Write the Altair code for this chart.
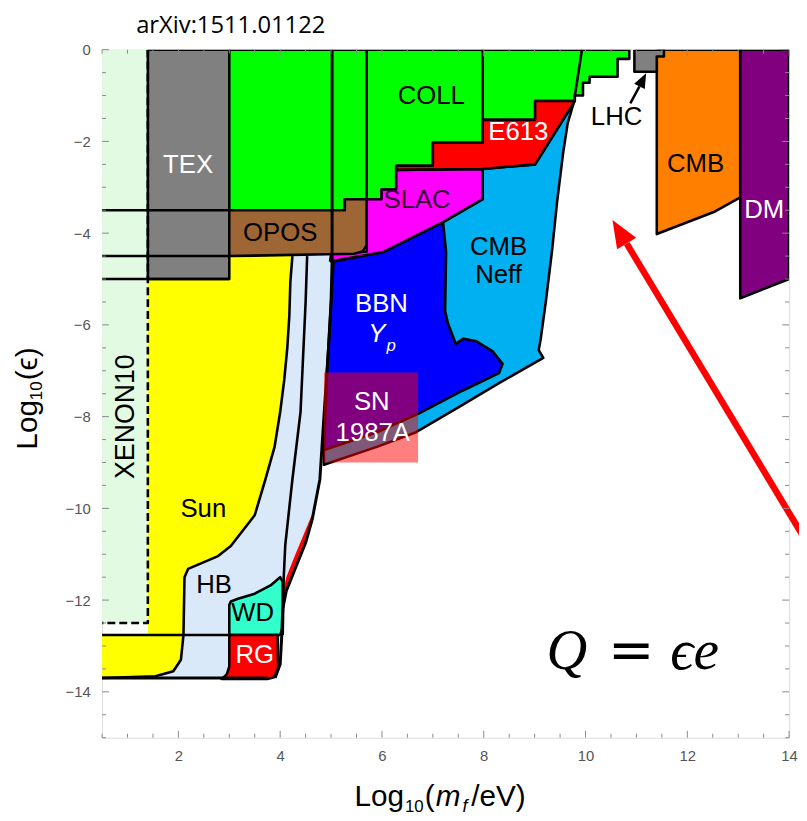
import altair as alt
import pandas as pd

W, H = 694, 695
X_DOMAIN = [0.5, 14]
Y_DOMAIN = [-15, 0]

# ---------------- regions (x = log10(m/eV), y = log10(eps)) ----------------
XENON_X = [0.5, 1.4, 1.4, 0.5]
XENON_Y = [0, 0, -12.5, -12.5]

HB_X = [3.5, 5.02, 5.02, 5.0, 4.95, 4.86, 4.78, 4.63, 4.5, 4.3, 4.12, 4.05, 4.03, 4.0, 3.9, 1.6]
HB_Y = [-4.5, -4.5, -4.6, -5.5, -6.5, -8.0, -9.37, -10.24, -10.75, -11.3, -11.8, -12.2, -12.8, -13.4, -13.7, -13.7]

SUN_X = [1.4, 4.24, 4.2, 4.18, 4.14, 4.08, 4.0, 3.89, 3.71, 3.5, 3.03, 2.78, 2.19, 2.12, 2.1, 2.05, 1.9, 1.55, 0.5, 0.5, 1.4]
SUN_Y = [-4.5, -4.5, -5.06, -5.8, -6.5, -7.2, -7.9, -8.66, -9.37, -10.15, -10.82, -11.04, -11.32, -11.5, -12.76, -13.3, -13.55, -13.66, -13.7, -12.76, -12.76]

TEX_X = [1.4, 3.0, 3.0, 1.4]
TEX_Y = [0, 0, -5.0, -5.0]

COLL_X = [3.0, 10.86, 10.86, 10.63, 10.63, 10.08, 10.08, 9.95, 9.95, 9.79, 9.79, 9.01, 9.01, 7.98, 7.98,
          7.0, 7.0, 6.28, 6.28, 5.99, 5.99, 5.27, 5.27, 3.0]
COLL_Y = [0, 0, -0.2, -0.2, -0.59, -0.59, -0.72, -0.72, -1.0, -1.0, -1.12, -1.12, -1.53, -1.53, -2.03,
          -2.03, -2.53, -2.53, -3.05, -3.05, -3.26, -3.26, -3.5, -3.5]

CMBN_X = [7.2, 7.98, 7.98, 9.01, 9.77, 9.65, 9.56, 9.44, 9.34, 9.22, 9.12, 9.08, 9.17, 8.3, 7.5, 6.67, 5.9, 4.86, 4.86]
CMBN_Y = [-3.76, -3.26, -2.6, -2.5, -1.15, -1.6, -2.25, -3.33, -4.4, -5.49, -6.3, -6.55, -6.72, -7.27, -7.8, -8.34, -8.66, -9.05, -8.73]

BBN_X = [5.05, 6.03, 7.2, 7.26, 7.24, 7.3, 7.45, 7.6, 7.84, 8.17, 8.37, 8.3, 7.59, 6.73, 5.9, 4.86, 4.92, 5.0]
BBN_Y = [-4.62, -4.41, -3.76, -4.41, -5.7, -5.98, -6.41, -6.3, -6.35, -6.57, -6.85, -7.05, -7.43, -7.93, -8.34, -8.73, -7.0, -5.5]

SLAC_X = [4.98, 5.0, 5.7, 5.7, 5.99, 5.99, 6.28, 6.28, 7.98, 7.98, 7.2, 6.03]
SLAC_Y = [-4.62, -4.45, -4.4, -3.26, -3.26, -3.05, -3.05, -2.62, -2.6, -3.26, -3.76, -4.41]

E613_X = [6.28, 7.0, 7.0, 7.98, 7.98, 9.01, 9.01, 9.79, 9.01, 7.98, 6.28]
E613_Y = [-2.53, -2.53, -2.03, -2.03, -1.53, -1.53, -1.12, -1.12, -2.5, -2.6, -2.62]

OPOS_X = [3.0, 5.27, 5.27, 5.7, 5.7, 5.62, 5.45, 3.0]
OPOS_Y = [-3.5, -3.5, -3.26, -3.26, -4.26, -4.4, -4.45, -4.5]

WD_X = [3.0, 3.0, 3.03, 3.17, 3.5, 3.81, 4.0, 4.05, 4.05, 4.0]
WD_Y = [-12.76, -12.1, -12.03, -11.97, -11.86, -11.68, -11.5, -11.6, -12.6, -12.76]

RG_X = [3.0, 3.95, 3.96, 3.88, 3.75, 2.85, 2.95, 3.0]
RG_Y = [-12.76, -12.76, -13.5, -13.68, -13.72, -13.72, -13.62, -13.45]

RGS_X = [4.66, 4.52, 4.33, 4.15, 4.06, 4.05, 4.12, 4.3, 4.47, 4.6]
RGS_Y = [-10.1, -10.7, -11.25, -11.75, -12.1, -11.85, -11.5, -11.0, -10.55, -10.2]

SN_X = [4.86, 6.71, 6.71, 4.86]
SN_Y = [-7.04, -7.04, -9.0, -9.0]

CMB_X = [11.4, 13.04, 13.04, 12.52, 11.4]
CMB_Y = [0, 0, -3.22, -3.54, -4.02]

DM_X = [13.04, 14.0, 14.0, 13.04]
DM_Y = [0, 0, -5.0, -5.42]

LHC_X = [10.96, 11.54, 11.54, 11.4, 11.4, 10.96]
LHC_Y = [0, 0, -0.15, -0.15, -0.48, -0.48]

OUTER_X = [5.02] + HB_X[1:15]
OUTER_Y = [0] + HB_Y[1:15]
INNER_X = [4.53, 4.5, 4.4, 4.24, 4.1, 4.07, 4.05]
INNER_Y = [-4.5, -5.5, -7.9, -9.37, -10.8, -11.5, -12.76]

# label texts and positions
LBL_TEXT = ["TEX", "COLL", "E613", "SLAC", "OPOS", "CMB", "Neff", "BBN", "SN", "1987A",
            "Sun", "HB", "WD", "RG", "LHC", "CMB", "DM"]
LBL_X = [2.19, 6.97, 8.68, 6.69, 4.0, 8.29, 8.29, 5.99, 5.8, 5.82, 2.49, 2.7, 3.46, 3.5, 10.61, 12.16, 13.51]
LBL_Y = [-2.51, -1.02, -1.79, -3.28, -4.0, -4.3, -4.92, -5.55, -7.69, -8.36, -10.02, -11.68, -12.29, -13.2,
         -1.47, -2.5, -3.5]
LBL_COLOR = ["white", "black", "white", "#330033", "black", "black", "black", "white", "white", "white",
             "black", "black", "black", "white", "black", "black", "white"]

X_MAJOR = [2, 4, 6, 8, 10, 12, 14]
Y_MAJOR = [-14, -12, -10, -8, -6, -4, -2, 0]
X_MINOR = [v / 2 for v in range(1, 28) if (v / 2) not in X_MAJOR]
Y_MINOR = [-v / 2 for v in range(0, 31) if (-v / 2) not in Y_MAJOR]

# ---------------- helpers ----------------
xs = alt.Scale(domain=X_DOMAIN, nice=False, zero=False)
ys = alt.Scale(domain=Y_DOMAIN, nice=False, zero=False)
LBL_EXPR = "datum.value < 0 ? '\u2212' + format(-datum.value, 'd') : format(datum.value, 'd')"
xax = alt.Axis(values=X_MAJOR, ticks=False, domain=False, grid=False, labelPadding=11,
               labelFontSize=15, labelColor="#555555", labelFont="Liberation Sans",
               labelFlush=False, title=None)
yax = alt.Axis(values=Y_MAJOR, ticks=False, domain=False, grid=False, labelPadding=12,
               labelFontSize=15, labelColor="#555555", labelFont="Liberation Sans", title=None,
               labelExpr=LBL_EXPR)


def X(f="x"):
    return alt.X(f"{f}:Q", scale=xs, axis=xax)


def Y(f="y"):
    return alt.Y(f"{f}:Q", scale=ys, axis=yax)


def poly(px, py, fill=None, stroke="black", sw=2.6, fo=1.0, close=True, dash=None, clip=True):
    px = list(px)
    py = list(py)
    if close:
        px = px + [px[0]]
        py = py + [py[0]]
    df = pd.DataFrame({"i": list(range(len(px))), "x": px, "y": py})
    kw = dict(strokeJoin="round", clip=clip)
    if stroke is None:
        kw["strokeOpacity"] = 0
        kw["strokeWidth"] = 0
    else:
        kw["stroke"] = stroke
        kw["strokeWidth"] = sw
    if fill is not None:
        kw["fill"] = fill
        kw["fillOpacity"] = fo
    if dash is not None:
        kw["strokeDash"] = dash
    return alt.Chart(df).mark_line(**kw).encode(x=X(), y=Y(), order="i:Q")


def seg(x1, y1, x2, y2, color="black", sw=2.6):
    return poly([x1, x2], [y1, y2], stroke=color, sw=sw, close=False)


layers = [
    poly(XENON_X, XENON_Y, fill="#E1FAE1", stroke=None),
    poly(HB_X, HB_Y, fill="#DAE9F9", stroke=None),
    poly(SUN_X, SUN_Y, fill="#FFFF00", stroke=None),
    poly(SUN_X[1:19], SUN_Y[1:19], close=False),
    poly(TEX_X, TEX_Y, fill="#808080"),
    poly(COLL_X, COLL_Y, fill="#00FF00"),
    poly(CMBN_X, CMBN_Y, fill="#00B0F0"),
    poly(BBN_X, BBN_Y, fill="#0000FF"),
    poly(SLAC_X, SLAC_Y, fill="#FF00FF"),
    poly(E613_X, E613_Y, fill="#FF0000"),
    poly(OPOS_X, OPOS_Y, fill="#9E6634"),
    poly(WD_X, WD_Y, fill="#33FFCC"),
    poly(RG_X, RG_Y, fill="#FF0000"),
    poly(RGS_X, RGS_Y, fill="#FF0000", stroke=None),
    poly(INNER_X, INNER_Y, close=False),
    poly(OUTER_X, OUTER_Y, close=False, sw=3),
    poly(SN_X, SN_Y, fill="#FF0000", fo=0.5, stroke=None),
    poly(CMB_X, CMB_Y, fill="#FF8000"),
    poly(DM_X, DM_Y, fill="#800080"),
    poly(LHC_X, LHC_Y, fill="#808080"),
    seg(0.5, -3.5, 3.0, -3.5),
    seg(0.5, -4.5, 3.0, -4.5),
    seg(0.5, -5.0, 3.0, -5.0),
    seg(0.5, -12.76, 3.0, -12.76),
    seg(0.5, -13.7, 3.75, -13.7, sw=3),
    seg(5.7, 0, 5.7, -3.26),
    seg(7.98, 0, 7.98, -1.53),
    seg(9.93, 0, 9.77, -1.15),
    poly([1.4, 1.4, 0.5], [0, -12.5, -12.5], close=False, dash=[8, 4]),
]

# region labels
lbl_df = pd.DataFrame({"t": LBL_TEXT, "x": LBL_X, "y": LBL_Y, "c": LBL_COLOR})
layers.append(
    alt.Chart(lbl_df).mark_text(font="Liberation Sans", fontSize=26, baseline="middle", align="center")
    .encode(x=X(), y=Y(), text="t:N", color=alt.Color("c:N", scale=None))
)
layers.append(
    alt.Chart(pd.DataFrame({"t": ["XENON10"], "x": [0.97], "y": [-8.0]}))
    .mark_text(font="Liberation Sans", fontSize=27, baseline="middle", align="center", angle=270, color="black")
    .encode(x=X(), y=Y(), text="t:N")
)
layers.append(
    alt.Chart(pd.DataFrame({"t": ["Y"], "x": [5.9], "y": [-6.2]}))
    .mark_text(font="Liberation Sans", fontSize=26, fontStyle="italic", baseline="middle", align="center", color="white")
    .encode(x=X(), y=Y(), text="t:N")
)
layers.append(
    alt.Chart(pd.DataFrame({"t": ["p"], "x": [6.18], "y": [-6.47]}))
    .mark_text(font="Liberation Sans", fontSize=17, fontStyle="italic", baseline="middle", align="center", color="white")
    .encode(x=X(), y=Y(), text="t:N")
)

# LHC arrow (black)
layers.append(seg(10.88, -1.17, 11.06, -0.8, sw=2.5))
layers.append(
    alt.Chart(pd.DataFrame({"x": [11.12], "y": [-0.67]}))
    .mark_point(shape="M0,-1L-0.75,0.85L0.75,0.85Z", size=256, filled=True, color="black", opacity=1, angle=27)
    .encode(x=X(), y=Y())
)

# red arrow
layers.append(
    alt.Chart(pd.DataFrame({"x": [14.31], "y": [-10.67], "x2": [10.81], "y2": [-4.23]}))
    .mark_rule(color="#FF0000", strokeWidth=6.5, clip=False)
    .encode(x=X(), y=Y(), x2="x2:Q", y2="y2:Q")
)
layers.append(
    alt.Chart(pd.DataFrame({"x": [10.68], "y": [-3.99]}))
    .mark_point(shape="M0,-1L-0.75,0.85L0.75,0.85Z", size=900, filled=True, color="#FF0000", opacity=1, angle=329)
    .encode(x=X(), y=Y())
)

# frame ticks (inward)
TC = "#8a8a8a"
for vals, L in [(X_MAJOR, 7), (X_MINOR, 4)]:
    d = pd.DataFrame({"x": vals})
    layers.append(alt.Chart(d).mark_rule(color=TC, strokeWidth=1).encode(x=X(), y=alt.value(H), y2=alt.value(H - L)))
    layers.append(alt.Chart(d).mark_rule(color=TC, strokeWidth=1).encode(x=X(), y=alt.value(0), y2=alt.value(L)))
for vals, L in [(Y_MAJOR, 7), (Y_MINOR, 4)]:
    d = pd.DataFrame({"y": vals})
    layers.append(alt.Chart(d).mark_rule(color=TC, strokeWidth=1).encode(y=Y(), x=alt.value(0), x2=alt.value(L)))
    layers.append(alt.Chart(d).mark_rule(color=TC, strokeWidth=1).encode(y=Y(), x=alt.value(W), x2=alt.value(W - L)))


def txt(t, x, y, size, angle=0, style="normal", font="Liberation Sans", color="black", align="left", baseline="alphabetic"):
    kw = dict(font=font, fontSize=size, fontStyle=style, color=color, align=align, baseline=baseline)
    if angle:
        kw["angle"] = angle
    return alt.Chart(pd.DataFrame({"t": [t]})).mark_text(**kw).encode(
        text="t:N", x=alt.value(x), y=alt.value(y))


# titles
layers += [
    txt("arXiv:1511.01122", 130, -17, 24, font="Open Sans", align="center"),
    # y axis title
    txt("Log", -66, 404, 30, angle=270),
    txt("10", -61, 354, 17, angle=270),
    txt("(\u03f5)", -66, 334, 30, angle=270),
    # x axis title
    txt("Log", 255, 764, 30),
    txt("10", 306, 770, 17),
    txt("(", 326, 764, 30),
    txt("m", 337, 764, 30, style="italic"),
    txt("f", 364, 770, 18, style="italic"),
    txt("/eV)", 373, 764, 30),
    # Q = eps e
    txt("Q", 449, 626, 57, style="italic", font="Liberation Serif"),
    txt("=", 511, 626, 56, font="DejaVu Serif"),
    txt("\u03f5e", 574, 626, 58, style="italic", font="Liberation Serif"),
]

chart = alt.layer(*layers).properties(
    width=W, height=H,
    autosize=alt.AutoSizeParams(type="none"),
    padding={"left": 95, "top": 38, "right": 10, "bottom": 77},
).configure_view(stroke="#8a8a8a", strokeWidth=1.2).configure(background="white")

chart.save("out.html", embed_options={"renderer": "svg", "actions": False})
